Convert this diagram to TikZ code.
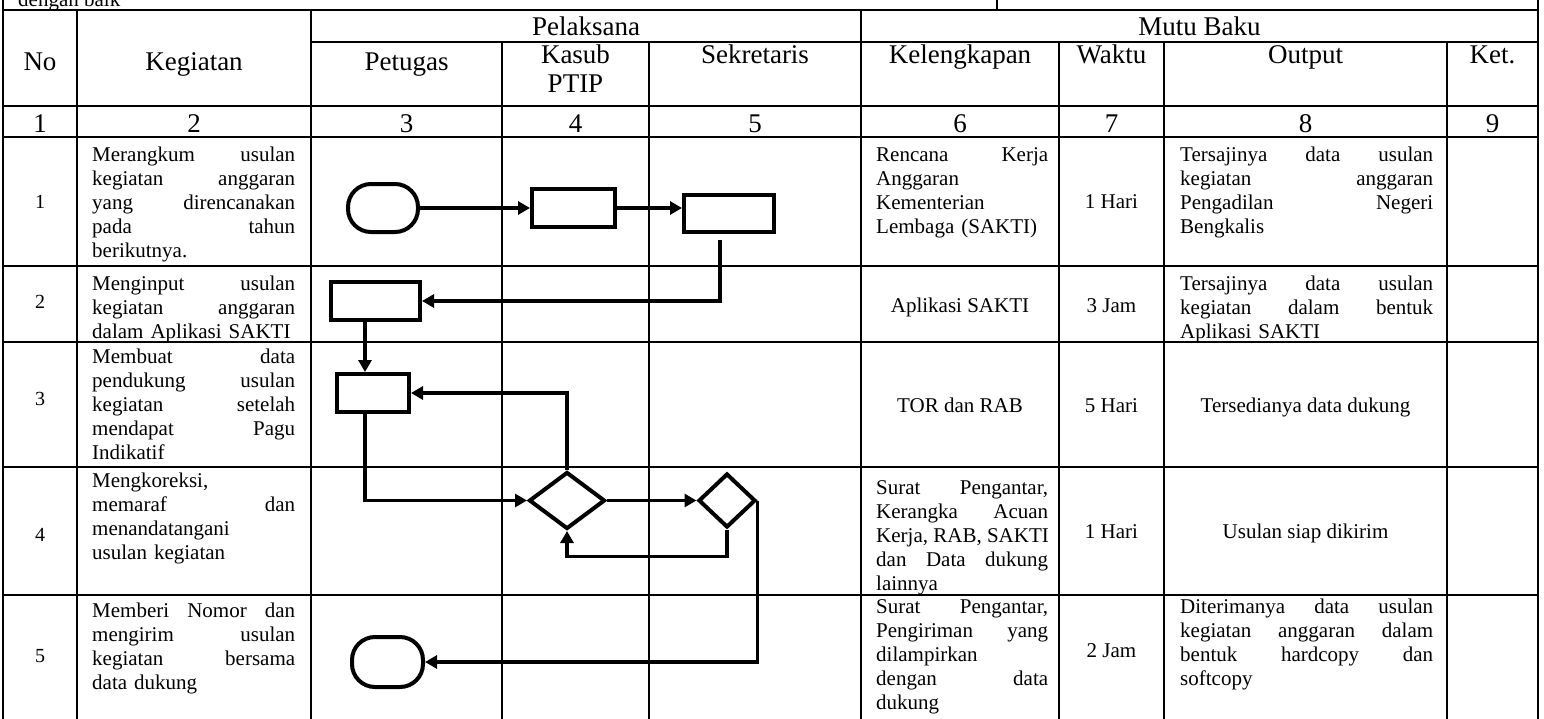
\documentclass[tikz,border=0pt]{standalone}
\usepackage{fontspec}
\setmainfont{Liberation Serif}
\usetikzlibrary{arrows.meta,shapes.geometric}

\tikzset{
  tabline/.style={black, line width=2pt},
  hd/.style={font=\fontsize{27}{29}\selectfont, inner sep=0pt, anchor=base},
  bd/.style={font=\fontsize{21}{24}\selectfont, inner sep=0pt, anchor=base west, align=left},
  ctr/.style={font=\fontsize{21}{24}\selectfont, inner sep=0pt, anchor=base},
  nomor/.style={font=\fontsize{20}{22}\selectfont, inner sep=0pt, anchor=base},
  shp/.style={draw, black, line width=4pt, inner sep=0pt},
  proc/.style={shp, rectangle},
  term/.style={shp, rectangle, rounded corners=23pt, minimum width=70pt, minimum height=48pt},
  dec/.style={shp, diamond},
  flow/.style={black, line width=3.5pt, -{Triangle[length=12pt,width=13pt]}},
}
\newcommand\jl[1]{\leavevmode\hbox to \hsize{\spaceskip=0.25em plus 1fill\relax #1}}

\begin{document}
\begin{tikzpicture}[x=1pt, y=-1pt]
\useasboundingbox (0,0) rectangle (1544,718);
\clip (0,0) rectangle (1544,718);
% table
\draw[tabline] (3, 10) -- (1538, 10);
\draw[tabline] (311, 42) -- (1538, 42);
\draw[tabline] (3, 106) -- (1538, 106);
\draw[tabline] (3, 137) -- (1538, 137);
\draw[tabline] (3, 266) -- (1538, 266);
\draw[tabline] (3, 342) -- (1538, 342);
\draw[tabline] (3, 467) -- (1538, 467);
\draw[tabline] (3, 595) -- (1538, 595);
\draw[tabline] (3, 0) -- (3, 725);
\draw[tabline] (1538, 0) -- (1538, 725);
\draw[tabline] (997, 0) -- (997, 10);
\draw[tabline] (77, 10) -- (77, 725);
\draw[tabline] (311, 10) -- (311, 725);
\draw[tabline] (861, 10) -- (861, 725);
\draw[tabline] (502, 42) -- (502, 725);
\draw[tabline] (649, 42) -- (649, 725);
\draw[tabline] (1059, 42) -- (1059, 725);
\draw[tabline] (1164, 42) -- (1164, 725);
\draw[tabline] (1447, 42) -- (1447, 725);
\node[bd] (atas) at (18, 6) {dengan baik};
% header
\node[hd] (hPel) at (586, 35) {Pelaksana};
\node[hd] (hMutu) at (1199.5, 35) {Mutu Baku};
\node[hd] (hNo) at (40, 70) {No};
\node[hd] (hKeg) at (194, 70) {Kegiatan};
\node[hd] (hPet) at (406.5, 70) {Petugas};
\node[hd, text width=140pt, align=center] (hKas) at (575.5, 63) {Kasub\\PTIP};
\node[hd] (hSek) at (755, 63) {Sekretaris};
\node[hd] (hKel) at (960, 63) {Kelengkapan};
\node[hd] (hWak) at (1111.5, 63) {Waktu};
\node[hd] (hOut) at (1305.5, 63) {Output};
\node[hd] (hKet) at (1492.5, 63) {Ket.};
\node[hd] (k1) at (40, 132) {1};
\node[hd] (k2) at (194, 132) {2};
\node[hd] (k3) at (406.5, 132) {3};
\node[hd] (k4) at (575.5, 132) {4};
\node[hd] (k5) at (755, 132) {5};
\node[hd] (k6) at (960, 132) {6};
\node[hd] (k7) at (1111.5, 132) {7};
\node[hd] (k8) at (1305.5, 132) {8};
\node[hd] (k9) at (1492.5, 132) {9};
% column 1 and 2
\node[nomor] (no1) at (40, 208) {1};
\node[nomor] (no2) at (40, 308) {2};
\node[nomor] (no3) at (40, 405) {3};
\node[nomor] (no4) at (40, 541) {4};
\node[nomor] (no5) at (40, 662) {5};
\node[bd, text width=203pt] (kg1) at (92, 161) {\jl{Merangkum usulan}\\ \jl{kegiatan anggaran}\\ \jl{yang direncanakan}\\ \jl{pada tahun}\\ berikutnya.};
\node[bd, text width=203pt] (kg2) at (92, 290) {\jl{Menginput usulan}\\ \jl{kegiatan anggaran}\\ dalam Aplikasi SAKTI};
\node[bd, text width=203pt] (kg3) at (92, 363) {\jl{Membuat data}\\ \jl{pendukung usulan}\\ \jl{kegiatan setelah}\\ \jl{mendapat Pagu}\\ Indikatif};
\node[bd, text width=203pt] (kg4) at (92, 487) {Mengkoreksi,\\ \jl{memaraf dan}\\ menandatangani\\ usulan kegiatan};
\node[bd, text width=203pt] (kg5) at (92, 617) {\jl{Memberi Nomor dan}\\ \jl{mengirim usulan}\\ \jl{kegiatan bersama}\\ data dukung};
% mutu baku
\node[bd, text width=172pt] (kl1) at (876, 161) {\jl{Rencana Kerja}\\ Anggaran\\ Kementerian\\ Lembaga (SAKTI)};
\node[ctr] (kl2) at (960, 312) {Aplikasi SAKTI};
\node[ctr] (kl3) at (960, 412) {TOR dan RAB};
\node[bd, text width=172pt] (kl4) at (876, 494) {\jl{Surat Pengantar,}\\ \jl{Kerangka Acuan}\\ \jl{Kerja, RAB, SAKTI}\\ \jl{dan Data dukung}\\ lainnya};
\node[bd, text width=172pt] (kl5) at (876, 613) {\jl{Surat Pengantar,}\\ \jl{Pengiriman yang}\\ dilampirkan\\ \jl{dengan data}\\ dukung};
\node[ctr] (wk1) at (1111.5, 208) {1 Hari};
\node[ctr] (wk2) at (1111.5, 312) {3 Jam};
\node[ctr] (wk3) at (1111.5, 412) {5 Hari};
\node[ctr] (wk4) at (1111.5, 538) {1 Hari};
\node[ctr] (wk5) at (1111.5, 657) {2 Jam};
\node[bd, text width=253pt] (out1) at (1180, 161) {\jl{Tersajinya data usulan}\\ \jl{kegiatan anggaran}\\ \jl{Pengadilan Negeri}\\ Bengkalis};
\node[bd, text width=253pt] (out2) at (1180, 290) {\jl{Tersajinya data usulan}\\ \jl{kegiatan dalam bentuk}\\ Aplikasi SAKTI};
\node[ctr] (out3) at (1305.5, 412) {Tersedianya data dukung};
\node[ctr] (out4) at (1305.5, 538) {Usulan siap dikirim};
\node[bd, text width=253pt] (out5) at (1180, 613) {\jl{Diterimanya data usulan}\\ \jl{kegiatan anggaran dalam}\\ \jl{bentuk hardcopy dan}\\ softcopy};
% flow
\node[term] (mulai) at (383, 208) {};
\node[proc, minimum width=83pt, minimum height=38pt] (rkas) at (573.5, 208) {};
\node[proc, minimum width=90pt, minimum height=37pt] (rsek) at (729, 213.5) {};
\node[proc, minimum width=89pt, minimum height=38pt] (rinput) at (375.5, 301) {};
\node[proc, minimum width=72pt, minimum height=38pt] (rdata) at (373, 393) {};
\node[dec, minimum width=76pt, minimum height=57pt] (cek1) at (567, 500.5) {};
\node[dec, minimum width=57pt, minimum height=54pt] (cek2) at (727, 500.5) {};
\node[term, minimum width=71pt, minimum height=50pt] (selesai) at (387.5, 662) {};
\coordinate (sekdrop) at (720, 240);
\coordinate (petx) at (365, 0);
\draw[flow] (mulai.east) -- (rkas.west);
\draw[flow] (rkas.east) -- (rkas.east -| rsek.west);
\draw[flow] (sekdrop) |- (rinput.east);
\draw[flow] (rinput.south -| petx) -- (rdata.north -| petx);
\draw[flow] (rdata.south -| petx) |- (cek1.west);
\draw[flow] (cek1.north) |- (rdata.east);
\draw[flow] (cek1.east) -- (cek2.west);
\draw[flow] (cek2.south) -- ++(0, 27) -| (cek1.south);
\draw[flow] (cek2.east) |- (selesai.east);
\end{tikzpicture}
\end{document}
